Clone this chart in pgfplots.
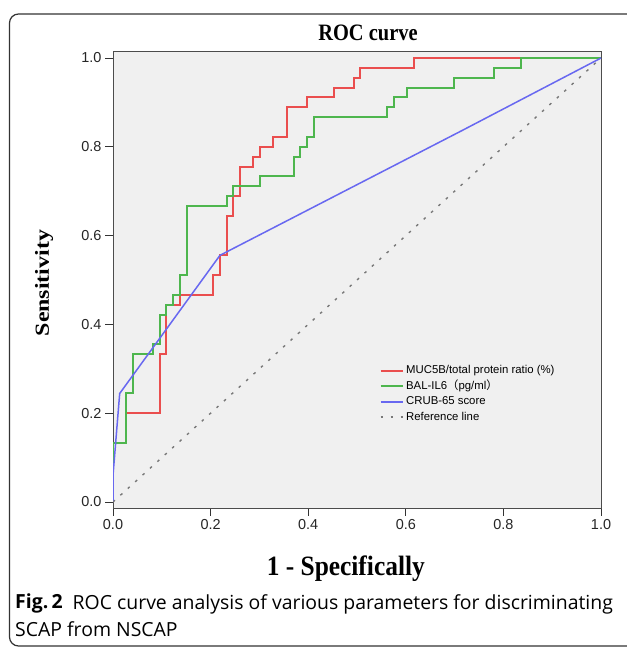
\documentclass[border=0pt]{standalone}
\usepackage{fontspec}
\setmainfont{Liberation Serif}
\newfontfamily\arial{Liberation Sans}
\newfontfamily\capfont{Open Sans}
\newfontfamily\cjk{Noto Sans CJK SC}
\usepackage{graphicx}
\usepackage{pgfplots}
\pgfplotsset{compat=1.18}
\definecolor{rocred}{RGB}{234,78,78}
\definecolor{rocgreen}{RGB}{78,182,78}
\definecolor{rocblue}{RGB}{104,104,240}
\definecolor{refgray}{RGB}{120,120,120}
\definecolor{plotbg}{RGB}{240,240,240}
\begin{document}
\begin{tikzpicture}[x=1bp,y=1bp]
\useasboundingbox (0,0) rectangle (627,649);
\begin{scope}
\clip (0,0) rectangle (627,649);
\draw[line width=1.2bp, color=black!80, rounded corners=9bp] (9.5,3) rectangle (660,635);
\end{scope}
\begin{axis}[
  at={(113bp,141bp)}, anchor=south west,
  width=488bp, height=457bp, scale only axis,
  xmin=0, xmax=1, ymin=-0.0135, ymax=1.0158,
  axis background/.style={fill=plotbg},
  axis line style={draw=black!70, line width=0.8bp},
  xtick={0,0.2,0.4,0.6,0.8,1}, ytick={0,0.2,0.4,0.6,0.8,1},
  tick align=outside, xtick pos=bottom, ytick pos=left,
  major tick length=8bp,
  tick style={black!80, line width=0.8bp},
  xticklabel style={font=\arial\fontsize{14.5}{14.5}\selectfont, color=black!85},
  yticklabel style={font=\arial\fontsize{14.5}{14.5}\selectfont, color=black!85},
  title={\scalebox{1}[1.15]{ROC curve}},
  title style={at={(axis description cs:0.5225,1.026)}, anchor=center, font=\bfseries\fontsize{20.5}{20.5}\selectfont},
  xlabel={\scalebox{1}[1.1]{1 - Specifically}},
  xlabel style={at={(axis description cs:0.477,-0.1335)}, anchor=center, font=\bfseries\fontsize{25.5}{25.5}\selectfont},
  ylabel={\scalebox{1.2}[1]{Sensitivity}},
  ylabel style={at={(axis description cs:-0.141,0.492)}, anchor=center, font=\bfseries\fontsize{20}{20}\selectfont},
  legend style={at={(axis cs:0.546,0.314)}, anchor=north west, draw=none, fill=none,
    inner sep=0pt, font=\arial\fontsize{11.4}{11.4}\selectfont,
    nodes={text height=8.5bp, text depth=2.5bp, inner ysep=2.25bp, inner xsep=2.5bp}},
  legend cell align=left,
  legend image code/.code={\draw[#1, line width=2bp] (0bp,0bp) -- (22bp,0bp);},
  /pgf/number format/assume math mode=true,
  /pgf/number format/fixed,
  /pgf/number format/fixed zerofill,
  /pgf/number format/precision=1,
]
\addplot[rocred, line width=2bp, line join=miter] coordinates {
(0,0) (0,0.1333) (0.0274,0.1333) (0.0274,0.2) (0.0959,0.2) (0.0959,0.3333)
(0.1096,0.3333) (0.1096,0.4444) (0.1370,0.4444) (0.1370,0.4667) (0.2055,0.4667)
(0.2055,0.5111) (0.2192,0.5111) (0.2192,0.5556) (0.2329,0.5556) (0.2329,0.6444)
(0.2466,0.6444) (0.2466,0.6889) (0.2603,0.6889) (0.2603,0.7556) (0.2877,0.7556)
(0.2877,0.7778) (0.3014,0.7778) (0.3014,0.8) (0.3288,0.8) (0.3288,0.8222)
(0.3562,0.8222) (0.3562,0.8889) (0.3973,0.8889) (0.3973,0.9111) (0.4521,0.9111)
(0.4521,0.9333) (0.4932,0.9333) (0.4932,0.9556) (0.5068,0.9556) (0.5068,0.9778)
(0.6164,0.9778) (0.6164,1) (1,1)
};
\addlegendentry{MUC5B/total protein ratio (\%)}
\addplot[rocgreen, line width=2bp, line join=miter] coordinates {
(0,0) (0,0.1333) (0.0274,0.1333) (0.0274,0.2444) (0.0411,0.2444) (0.0411,0.3333)
(0.0822,0.3333) (0.0822,0.3556) (0.0959,0.3556) (0.0959,0.4222) (0.1096,0.4222)
(0.1096,0.4444) (0.1233,0.4444) (0.1233,0.4667) (0.1370,0.4667) (0.1370,0.5111)
(0.1507,0.5111) (0.1507,0.6667) (0.2329,0.6667) (0.2329,0.6889) (0.2466,0.6889)
(0.2466,0.7111) (0.3014,0.7111) (0.3014,0.7333) (0.3699,0.7333) (0.3699,0.7778)
(0.3836,0.7778) (0.3836,0.8) (0.3973,0.8) (0.3973,0.8222) (0.4110,0.8222)
(0.4110,0.8667) (0.5616,0.8667) (0.5616,0.8889) (0.5753,0.8889) (0.5753,0.9111)
(0.6027,0.9111) (0.6027,0.9333) (0.6986,0.9333) (0.6986,0.9556) (0.7808,0.9556)
(0.7808,0.9778) (0.8356,0.9778) (0.8356,1) (1,1)
};
\addlegendentry{BAL-IL6{\cjk （}pg/ml{\cjk ）}}
\addplot[rocblue, line width=1.5bp] coordinates {
(0,0) (0,0.06) (0.0137,0.2444) (0.2192,0.5556) (0.7192,0.8389) (1,1)
};
\addlegendentry{CRUB-65 score}
\addplot[refgray, line width=1.4bp, dash pattern=on 2.6bp off 7.4bp] coordinates {
(0,0) (1,1)
};
\addlegendentry{Reference line}
\end{axis}
\node[anchor=base west, inner sep=0, font=\capfont\fontsize{19.5}{19.5}\selectfont] at (15,40) {\textbf{Fig.\,2}\ \ ROC curve analysis of various parameters for discriminating};
\node[anchor=base west, inner sep=0, font=\capfont\fontsize{19.5}{19.5}\selectfont] at (15,12) {SCAP from NSCAP};
\end{tikzpicture}
\end{document}
